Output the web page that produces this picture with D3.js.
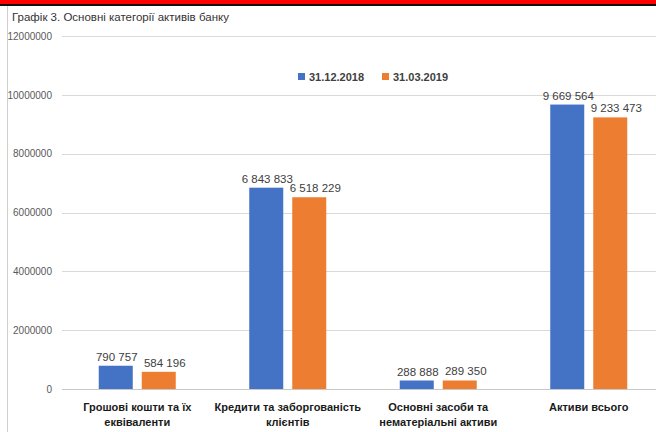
<!DOCTYPE html>
<html>
<head>
<meta charset="utf-8">
<script src="https://cdn.jsdelivr.net/npm/d3@7"></script>
<style>
html,body{margin:0;padding:0;background:#fff;}
svg{display:block;}
</style>
</head>
<body>
<svg id="chart" width="656" height="432"></svg>
<script>
const title = "Графік 3. Основні категорії активів банку";
const categories = [
  ["Грошові кошти та їх", "еквіваленти"],
  ["Кредити та заборгованість", "клієнтів"],
  ["Основні  засоби та", "нематеріальні активи"],
  ["Активи всього"]
];
const seriesNames = ["31.12.2018", "31.03.2019"];
const seriesColors = ["#4472C4", "#ED7D31"];
const values2018 = [790757, 6843833, 288888, 9669564];
const values2019 = [584196, 6518229, 289350, 9233473];
const yTicks = [0, 2000000, 4000000, 6000000, 8000000, 10000000, 12000000];

(function(){
const series = [values2018, values2019];
const font = "'Liberation Sans', Arial, sans-serif";
const svg = d3.select("#chart");

// top border
svg.append("rect").attr("x",0).attr("y",0).attr("width",656).attr("height",4).attr("fill","#ff0000");
svg.append("rect").attr("x",0).attr("y",4).attr("width",656).attr("height",2).attr("fill","#111");
svg.append("line").attr("x1",7.5).attr("x2",7.5).attr("y1",6).attr("y2",432).attr("stroke","#d0d0d0");

svg.append("text").attr("x",12).attr("y",21).text(title)
  .attr("font-family",font).attr("font-size",11.5).attr("fill","#333");

const pLeft = 62, pRight = 664, pTop = 36, pBottom = 389;
const x = d3.scaleBand().domain(d3.range(categories.length)).range([pLeft, pRight]).paddingInner(0).paddingOuter(0);
const y = d3.scaleLinear().domain([0, 12000000]).range([pBottom, pTop]);

// gridlines
svg.append("g").selectAll("line").data(yTicks).join("line")
  .attr("x1", pLeft).attr("x2", 656)
  .attr("y1", d => Math.round(y(d)) + 0.5).attr("y2", d => Math.round(y(d)) + 0.5)
  .attr("stroke", d => d === 0 ? "#c8c8c8" : "#d9d9d9");

// y axis labels
const yAxis = d3.axisLeft(y).tickValues(yTicks).tickSize(0).tickPadding(0).tickFormat(d3.format("d"));
const ga = svg.append("g").attr("transform", `translate(${pLeft-10},0)`).call(yAxis);
ga.select(".domain").remove();
ga.selectAll("text").attr("font-family", font).attr("font-size", 10).attr("fill", "#595959");

const barW = 34, gap = 9;
const labelDx = [1, 6];
const sub = d3.scaleBand().domain([0,1]).range([0, barW*2+gap]).paddingInner(gap/(barW+gap));
const fmt = v => d3.format(",")(v).replace(/,/g, " ");

series.forEach((vals, si) => {
  const g = svg.append("g");
  g.selectAll("rect").data(vals).join("rect")
    .attr("x", (d,i) => x(i) + x.bandwidth()/2 - (barW*2+gap)/2 + sub(si))
    .attr("width", sub.bandwidth())
    .attr("y", d => y(d))
    .attr("height", d => pBottom - y(d))
    .attr("fill", seriesColors[si]);
  g.selectAll("text").data(vals).join("text")
    .attr("x", (d,i) => x(i) + x.bandwidth()/2 - (barW*2+gap)/2 + sub(si) + sub.bandwidth()/2 + labelDx[si])
    .attr("y", d => y(d) - 5)
    .attr("text-anchor", "middle")
    .attr("font-family", font).attr("font-size", 11.5).attr("fill", "#404040")
    .text(d => fmt(d));
});

// category labels
const cg = svg.append("g");
categories.forEach((lines, i) => {
  const t = cg.append("text")
    .attr("x", x(i) + x.bandwidth()/2)
    .attr("y", 411)
    .attr("text-anchor", "middle")
    .attr("font-family", font).attr("font-size", 11).attr("font-weight", "bold").attr("fill", "#1a1a1a");
  lines.forEach((l, j) => t.append("tspan").attr("x", x(i) + x.bandwidth()/2).attr("dy", j ? 15 : 0).text(l));
});

// legend
const lg = svg.append("g");
const legX = [298, 382];
seriesNames.forEach((n, i) => {
  lg.append("rect").attr("x", legX[i]).attr("y", 73).attr("width", 7).attr("height", 7).attr("fill", seriesColors[i]);
  lg.append("text").attr("x", legX[i] + 11).attr("y", 80.5).text(n)
    .attr("font-family", font).attr("font-size", 11).attr("font-weight", "bold").attr("fill", "#404040");
});
})();
</script>
</body>
</html>
